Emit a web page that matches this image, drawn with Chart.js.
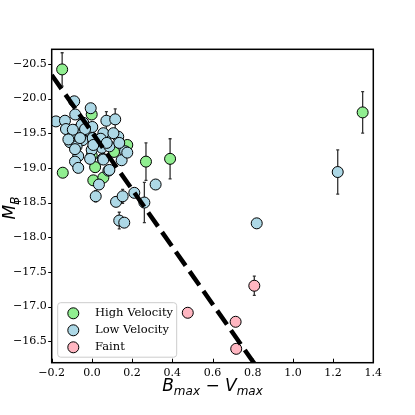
<!DOCTYPE html>
<html>
<head>
<meta charset="utf-8">
<script src="https://cdn.jsdelivr.net/npm/chart.js@4.4.1/dist/chart.umd.min.js"></script>
<style>
  body { margin: 0; background: #fff; }
  #wrap { width: 415px; height: 415px; }
</style>
</head>
<body>
<div id="wrap"><canvas id="colourMag" width="415" height="415"></canvas></div>
<script>
// B_max - V_max colour vs absolute magnitude M_B
const highVelX = [-0.148, -0.145, -0.001, 0.176, 0.269, 0.389, 0.016, -0.001, 0.007, 0.057, 0.110, 1.347];
const highVelY = [-20.42, -18.93, -19.77, -19.33, -19.09, -19.13, -19.01, -19.18, -18.82, -18.86, -19.23, -19.80];
const highVelErr = [0.24, 0, 0, 0, 0.27, 0.29, 0, 0, 0, 0, 0, 0.30];

const lowVelX = [-0.088, -0.006, -0.083, 0.072, 0.116, -0.179, -0.134, -0.129, -0.043, -0.073,
                 -0.021, 0.002, -0.051, -0.105, -0.046, 0.004, -0.109, 0.065, 0.131, 0.049,
                 -0.001, -0.076, 0.087, 0.165, -0.068, -0.009, 0.054, 0.148, -0.084, -0.068,
                 0.082, 0.035, 0.019, 0.120, 0.153, 0.211, 0.261, 0.317, 0.136, 0.161,
                 -0.095, -0.034, 0.057, 0.107, -0.117, -0.059, 0.044, 0.007, 0.074, 0.136,
                 -0.084, 0.176, 0.057, 0.087, 0.820, 1.223];
const lowVelY = [-19.96, -19.86, -19.77, -19.68, -19.70, -19.67, -19.68, -19.56, -19.65, -19.55,
                 -19.54, -19.59, -19.62, -19.43, -19.40, -19.43, -19.37, -19.43, -19.45, -19.29,
                 -19.26, -19.31, -19.31, -19.24, -19.17, -19.13, -19.13, -19.11, -19.09, -19.00,
                 -18.96, -18.76, -18.59, -18.51, -18.59, -18.64, -18.50, -18.76, -18.24, -18.21,
                 -19.55, -19.56, -19.50, -19.50, -19.41, -19.43, -19.42, -19.33, -19.36, -19.36,
                 -19.27, -19.22, -19.12, -18.97, -18.20, -18.94];
const lowVelErr = [0, 0, 0, 0.13, 0.15, 0, 0, 0, 0, 0,
                   0, 0, 0, 0, 0, 0, 0, 0, 0, 0,
                   0, 0, 0, 0, 0, 0, 0, 0, 0, 0,
                   0, 0, 0.08, 0, 0.10, 0, 0.29, 0, 0.12, 0,
                   0, 0, 0, 0, 0, 0, 0, 0, 0, 0,
                   0, 0, 0, 0, 0, 0.32];

const faintX = [0.477, 0.715, 0.718, 0.808];
const faintY = [-16.91, -16.78, -16.39, -17.30];
const faintErr = [0, 0, 0, 0.14];

const fitLineX = [-0.2, 0.81];
const fitLineY = [-20.34, -16.17];

const xTicks = [-0.2, 0.0, 0.2, 0.4, 0.6, 0.8, 1.0, 1.2, 1.4];
const yTicks = [-20.5, -20.0, -19.5, -19.0, -18.5, -18.0, -17.5, -17.0, -16.5];

const toPoints = (xs, ys) => xs.map((x, i) => ({x: x, y: ys[i]}));
const fmt = v => (Math.abs(v) < 1e-9 ? 0 : v).toFixed(1).replace('-', '\u2212');

const errorBars = {
    id: 'errorBars',
    beforeDatasetsDraw(chart) {
        const {ctx, scales: {x, y}} = chart;
        ctx.save();
        ctx.strokeStyle = '#333';
        ctx.lineWidth = 1.3;
        chart.data.datasets.forEach(ds => {
            if (!ds.errors) return;
            ds.data.forEach((p, i) => {
                const e = ds.errors[i];
                if (!e) return;
                const px = x.getPixelForValue(p.x);
                const y1 = y.getPixelForValue(p.y - e);
                const y2 = y.getPixelForValue(p.y + e);
                ctx.beginPath();
                ctx.moveTo(px, y1); ctx.lineTo(px, y2);
                ctx.moveTo(px - 1.5, y1); ctx.lineTo(px + 1.5, y1);
                ctx.moveTo(px - 1.5, y2); ctx.lineTo(px + 1.5, y2);
                ctx.stroke();
            });
        });
        ctx.restore();
    }
};

function drawMath(ctx, parts) {
    // parts: [text, font, baseline shift]
    let total = 0;
    parts.forEach(p => { ctx.font = p[1]; total += ctx.measureText(p[0]).width; });
    let cx = -total / 2;
    parts.forEach(p => {
        ctx.font = p[1];
        ctx.fillText(p[0], cx, p[2]);
        cx += ctx.measureText(p[0]).width;
    });
}

const frameAndLabels = {
    id: 'frameAndLabels',
    afterDraw(chart) {
        const {ctx, chartArea: a, scales: {x, y}} = chart;
        ctx.save();
        ctx.strokeStyle = '#000';
        ctx.lineWidth = 1;
        // inward ticks on x, outward on y
        x.ticks.forEach(t => {
            const px = Math.round(x.getPixelForValue(t.value)) + 0.5;
            ctx.beginPath(); ctx.moveTo(px, a.bottom); ctx.lineTo(px, a.bottom - 4); ctx.stroke();
        });
        y.ticks.forEach(t => {
            const py = Math.round(y.getPixelForValue(t.value)) + 0.5;
            ctx.beginPath(); ctx.moveTo(a.left, py); ctx.lineTo(a.left - 3.5, py); ctx.stroke();
        });
        ctx.lineWidth = 1.5;
        ctx.strokeRect(a.left, a.top, a.right - a.left, a.bottom - a.top);

        // legend
        const lx = a.left + 6, ly = a.bottom - 60, lw = 119, lh = 54.5;
        ctx.beginPath();
        ctx.roundRect(lx, ly, lw, lh, 3);
        ctx.fillStyle = 'rgba(255,255,255,0.8)';
        ctx.fill();
        ctx.strokeStyle = '#cccccc';
        ctx.lineWidth = 1;
        ctx.stroke();
        const entries = chart.data.datasets.filter(ds => ds.legendRow !== undefined)
            .sort((p, q) => p.legendRow - q.legendRow);
        entries.forEach((ds, i) => {
            const ry = ly + 10.6 + i * 17;
            ctx.beginPath();
            ctx.arc(lx + 15.6, ry, 5.5, 0, Math.PI * 2);
            ctx.fillStyle = ds.backgroundColor;
            ctx.fill();
            ctx.strokeStyle = '#000';
            ctx.stroke();
            ctx.fillStyle = '#000';
            ctx.font = '11.5px "DejaVu Serif"';
            ctx.textBaseline = 'middle';
            ctx.textAlign = 'left';
            ctx.fillText(ds.label, lx + 37.3, ry);
        });

        // axis titles
        ctx.fillStyle = '#000';
        ctx.textBaseline = 'alphabetic';
        ctx.textAlign = 'left';
        ctx.save();
        ctx.translate((a.left + a.right) / 2, 391);
        drawMath(ctx, [
            ['B', 'italic 17px "DejaVu Sans"', 0],
            ['max', 'italic 12px "DejaVu Sans"', 4],
            [' \u2212 ', '17px "DejaVu Sans"', 0],
            ['V', 'italic 17px "DejaVu Sans"', 0],
            ['max', 'italic 12px "DejaVu Sans"', 4]
        ]);
        ctx.restore();
        ctx.save();
        ctx.translate(15, (a.top + a.bottom) / 2 + 2);
        ctx.rotate(-Math.PI / 2);
        drawMath(ctx, [
            ['M', 'italic 17px "DejaVu Sans"', 0],
            ['B', 'italic 12px "DejaVu Sans"', 4]
        ]);
        ctx.restore();
        ctx.restore();
    }
};

const markerStyle = {type: 'scatter', pointRadius: 5.5, pointHoverRadius: 5.5, borderColor: '#000', borderWidth: 1};

const data = {
    datasets: [
        {
            type: 'line', label: 'fit', data: toPoints(fitLineX, fitLineY),
            borderColor: '#000', borderWidth: 4.5, borderDash: [17, 7], pointRadius: 0,
            fill: false, order: 0
        },
        Object.assign({label: 'Faint', data: toPoints(faintX, faintY), errors: faintErr,
            backgroundColor: '#ffb6c1', order: 1, legendRow: 2}, markerStyle),
        Object.assign({label: 'Low Velocity', data: toPoints(lowVelX, lowVelY), errors: lowVelErr,
            backgroundColor: '#add8e6', order: 2, legendRow: 1}, markerStyle),
        Object.assign({label: 'High Velocity', data: toPoints(highVelX, highVelY), errors: highVelErr,
            backgroundColor: '#90ee90', order: 3, legendRow: 0}, markerStyle)
    ]
};

const tickFont = {family: 'DejaVu Serif', size: 11};

const config = {
    type: 'scatter',
    data: data,
    options: {
        responsive: false,
        animation: false,
        layout: {padding: {left: 0, top: 49.3, right: 41.7, bottom: 0}},
        plugins: {legend: {display: false}, tooltip: {enabled: false}},
        scales: {
            x: {
                type: 'linear', min: xTicks[0], max: xTicks[xTicks.length - 1],
                grid: {display: false, drawTicks: false},
                border: {display: false},
                afterBuildTicks: s => { s.ticks = xTicks.map(v => ({value: v})); },
                afterFit: s => { s.height = 52.3; },
                ticks: {color: '#000', font: tickFont, padding: 4, maxRotation: 0, autoSkip: false, callback: fmt}
            },
            y: {
                type: 'linear', reverse: true, min: -20.71, max: -16.19,
                grid: {display: false, drawTicks: false},
                border: {display: false},
                afterBuildTicks: s => { s.ticks = yTicks.map(v => ({value: v})); },
                afterFit: s => { s.width = 51.7; },
                ticks: {color: '#000', font: tickFont, padding: 5, autoSkip: false, callback: fmt}
            }
        }
    },
    plugins: [errorBars, frameAndLabels]
};

const colourMagChart = new Chart(document.getElementById('colourMag').getContext('2d'), config);
</script>
</body>
</html>
